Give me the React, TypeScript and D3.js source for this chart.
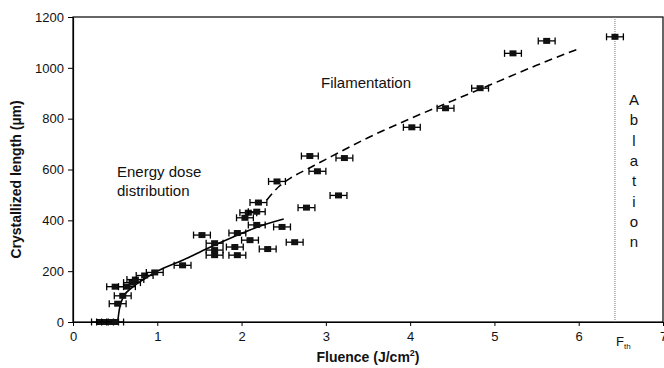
import React, { useEffect, useRef } from 'react';
import * as d3 from 'd3';

// measured points: fluence (J/cm2) and crystallized length (um)
const fluence = [
  0.32, 0.38, 0.44, 0.5, 0.53, 0.59, 0.5, 0.64, 0.7, 0.74, 0.85, 0.97, 1.3,
  1.53, 1.68, 1.68, 1.68, 1.92, 1.95, 1.95, 2.1, 2.18, 2.04, 2.08, 2.18, 2.2,
  2.31, 2.48, 2.63, 2.42, 2.77, 2.81, 2.9, 3.15, 3.22, 4.02, 4.42, 4.83, 5.22,
  5.62, 6.43,
];
const lengthUm = [
  0, 0, 0, 0, 72, 103, 139, 139, 155, 167, 183, 195, 223,
  342, 310, 283, 263, 295, 350, 263, 322, 382, 410, 430, 434, 470,
  287, 374, 314, 553, 450, 653, 593, 498, 645, 766, 841, 920, 1057,
  1106, 1122,
];
const fluenceErr = 0.1;

// energy dose distribution fit (solid)
const doseFitX = [0.53, 0.55, 0.6, 0.7, 0.85, 1.0, 1.3, 1.6, 1.9, 2.2, 2.5];
const doseFitY = [0, 50, 100, 135, 170, 200, 243, 290, 334, 375, 405];

// filamentation fit (dashed)
const filFitX = [2.3, 2.45, 2.6, 2.8, 3.0, 3.5, 4.0, 4.5, 5.0, 5.5, 6.0];
const filFitY = [480, 535, 570, 605, 640, 725, 800, 870, 940, 1010, 1075];

const xTicks = [0, 1, 2, 3, 4, 5, 6, 7];
const yTicks = [0, 200, 400, 600, 800, 1000, 1200];
const fThreshold = 6.43;
const ablation = 'Ablation'.split('');

const App: React.FC = () => {
  const svgRef = useRef<SVGSVGElement>(null);

  useEffect(() => {
    if (!svgRef.current) return;
    const root = d3.select(svgRef.current);
    root.selectAll('*').remove();

    const left = 73;
    const right = 663;
    const top = 17;
    const bottom = 322;

    const x = d3.scaleLinear().domain([0, 7]).range([left, right]);
    const y = d3.scaleLinear().domain([0, 1200]).range([bottom, top]);

    const font = 'Liberation Sans, Arial, sans-serif';
    const g = root.append('g').attr('font-family', font);

    // plot frame
    g.append('rect')
      .attr('x', left)
      .attr('y', top)
      .attr('width', right - left)
      .attr('height', bottom - top)
      .attr('fill', 'none')
      .attr('stroke', '#000')
      .attr('stroke-width', 1.2);

    // axes
    const xAxis = g
      .append('g')
      .attr('transform', `translate(0,${bottom})`)
      .call(
        d3.axisBottom(x).tickValues(xTicks).tickFormat(d3.format('d')).tickSize(4).tickSizeOuter(0).tickPadding(6)
      );
    const yAxis = g
      .append('g')
      .attr('transform', `translate(${left},0)`)
      .call(
        d3.axisLeft(y).tickValues(yTicks).tickFormat(d3.format('d')).tickSize(5).tickSizeOuter(0).tickPadding(4)
      );
    [xAxis, yAxis].forEach(a => {
      a.select('.domain').attr('stroke', '#000').attr('stroke-width', 1.2);
      a.selectAll('text')
        .attr('font-family', font)
        .attr('font-size', 13)
        .attr('fill', '#111');
    });

    // threshold line
    g.append('line')
      .attr('x1', x(fThreshold))
      .attr('x2', x(fThreshold))
      .attr('y1', top)
      .attr('y2', bottom)
      .attr('stroke', '#777')
      .attr('stroke-width', 1)
      .attr('stroke-dasharray', '1 1');

    const fth = g
      .append('text')
      .attr('x', x(fThreshold) + 1)
      .attr('y', bottom + 24)
      .attr('font-size', 13)
      .attr('fill', '#111');
    fth.append('tspan').text('F');
    fth.append('tspan').attr('font-size', 8).attr('dy', 3).text('th');

    // fit curves
    const line = d3
      .line<[number, number]>()
      .x(d => x(d[0]))
      .y(d => y(d[1]))
      .curve(d3.curveMonotoneX);

    g.append('path')
      .datum(doseFitX.map((v, i) => [v, doseFitY[i]] as [number, number]))
      .attr('fill', 'none')
      .attr('stroke', '#000')
      .attr('stroke-width', 1.6)
      .attr('d', line);

    g.append('path')
      .datum(filFitX.map((v, i) => [v, filFitY[i]] as [number, number]))
      .attr('fill', 'none')
      .attr('stroke', '#000')
      .attr('stroke-width', 1.6)
      .attr('stroke-dasharray', '8 5')
      .attr('d', line);

    // data points with horizontal error bars
    const pts = g.append('g');
    fluence.forEach((fx, i) => {
      const cy = y(lengthUm[i]);
      const x0 = x(fx - fluenceErr);
      const x1 = x(fx + fluenceErr);
      pts.append('line')
        .attr('x1', x0).attr('x2', x1).attr('y1', cy).attr('y2', cy)
        .attr('stroke', '#000').attr('stroke-width', 1.3);
      [x0, x1].forEach(cx => {
        pts.append('line')
          .attr('x1', cx).attr('x2', cx).attr('y1', cy - 3.5).attr('y2', cy + 3.5)
          .attr('stroke', '#000').attr('stroke-width', 1.3);
      });
      pts.append('rect')
        .attr('x', x(fx) - 3.5)
        .attr('y', cy - 3)
        .attr('width', 7)
        .attr('height', 6)
        .attr('fill', '#111');
    });

    // annotations
    g.append('text')
      .attr('x', 321)
      .attr('y', 88)
      .attr('font-size', 15)
      .attr('fill', '#111')
      .text('Filamentation');

    const dose = g.append('text').attr('font-size', 15).attr('fill', '#111');
    dose.append('tspan').attr('x', 117).attr('y', 177).text('Energy dose');
    dose.append('tspan').attr('x', 117).attr('y', 196).text('distribution');

    g.selectAll('.abl')
      .data(ablation)
      .enter()
      .append('text')
      .attr('class', 'abl')
      .attr('x', 634)
      .attr('y', (d, i) => 105 + i * 20.3)
      .attr('text-anchor', 'middle')
      .attr('font-size', 15)
      .attr('fill', '#111')
      .text(d => d);

    // axis titles
    const xt = g
      .append('text')
      .attr('x', 368)
      .attr('y', 362)
      .attr('text-anchor', 'middle')
      .attr('font-size', 14)
      .attr('font-weight', 'bold')
      .attr('fill', '#111');
    xt.append('tspan').text('Fluence (J/cm');
    xt.append('tspan').attr('font-size', 9).attr('dy', -6).text('2');
    xt.append('tspan').attr('dy', 6).text(')');

    g.append('text')
      .attr('transform', `translate(21,${(top + bottom) / 2 + 10}) rotate(-90)`)
      .attr('text-anchor', 'middle')
      .attr('font-size', 14)
      .attr('font-weight', 'bold')
      .attr('fill', '#111')
      .text('Crystallized length (\u00b5m)');
  }, []);

  return (
    <div style={{ position: 'absolute', left: 0, top: 0, width: 664, height: 368, background: '#fff' }}>
      <svg ref={svgRef} width={664} height={368}></svg>
    </div>
  );
};

export default App;
